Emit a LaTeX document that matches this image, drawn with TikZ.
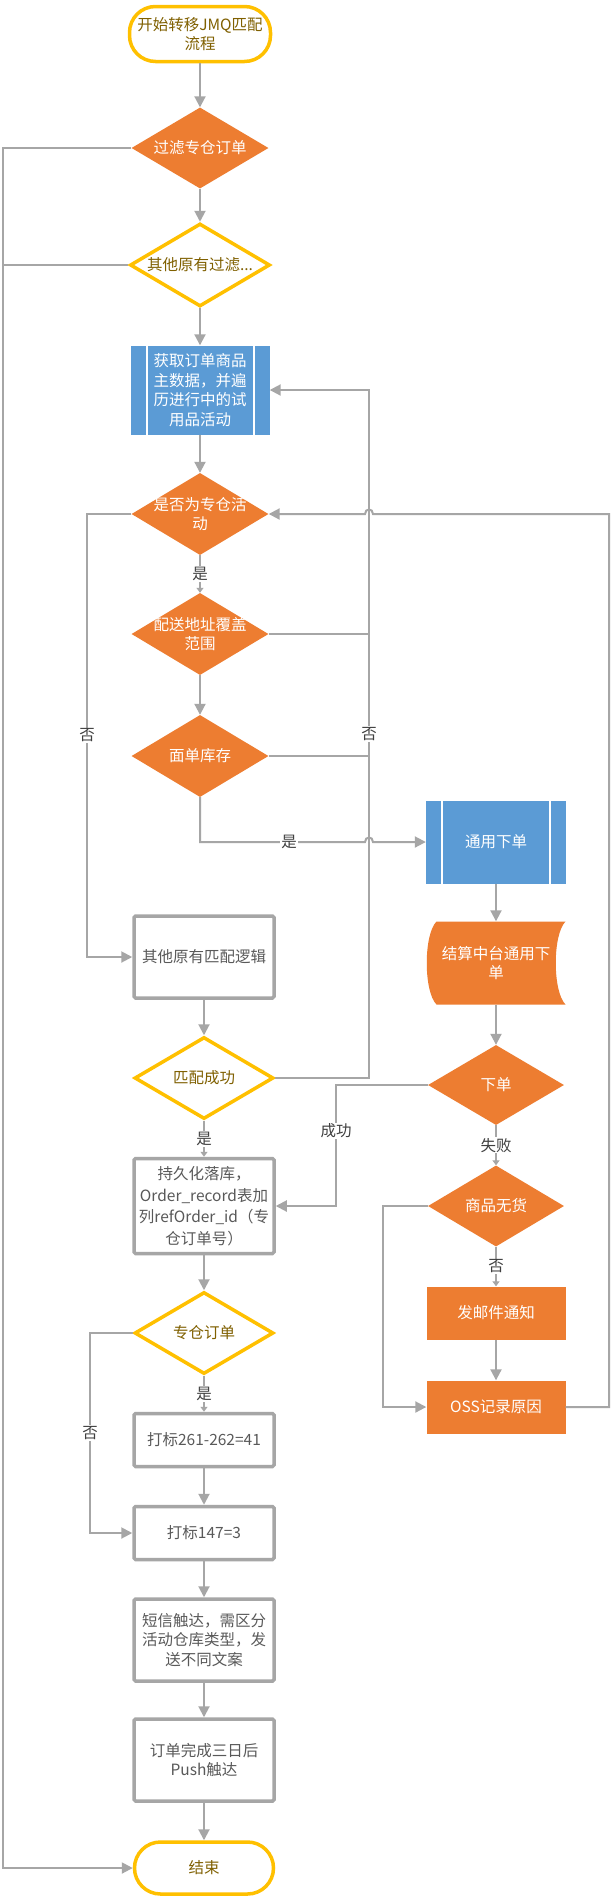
\documentclass[tikz,border=0pt]{standalone}
\usepackage{fontspec}
\setmainfont{Noto Sans CJK SC}
\usepackage{tikz}
\usetikzlibrary{shapes.geometric, arrows.meta}
\usetikzlibrary{calc}

\definecolor{jorange}{RGB}{237,125,49}
\definecolor{jblue}{RGB}{91,155,213}
\definecolor{jyellow}{RGB}{255,192,0}
\definecolor{jgray}{RGB}{166,166,166}
\definecolor{jtext}{RGB}{89,89,89}
\definecolor{jgold}{RGB}{128,96,0}
\definecolor{jlabel}{RGB}{64,64,64}

\tikzset{
  base/.style={font=\fontsize{15.5}{19.5}\selectfont, align=center, inner sep=0pt},
  terminal/.style={base, rectangle, rounded corners=26pt, draw=jyellow, line width=3.5pt, fill=white, text=jgold},
  decision/.style={base, diamond, fill=jorange},
  check/.style={base, diamond, draw=jyellow, line width=3.5pt, fill=white},
  dtext/.style={font=\fontsize{15.5}{19.5}\selectfont, align=center, text=white, inner sep=0pt},
  ctext/.style={font=\fontsize{15.5}{19.5}\selectfont, align=center, text=jgold, inner sep=0pt},
  procbox/.style={base, rectangle, draw=jgray, line width=3.5pt, rounded corners=1.5pt, fill=white, text=jtext, minimum width=140pt},
  actbox/.style={base, rectangle, fill=jorange, text=white, minimum width=139pt, minimum height=53pt},
  subproc/.style={base, rectangle, fill=jblue, text=white, path picture={
      \draw[white, line width=2pt] ([xshift=16pt]path picture bounding box.north west) -- ([xshift=16pt]path picture bounding box.south west);
      \draw[white, line width=2pt] ([xshift=-16pt]path picture bounding box.north east) -- ([xshift=-16pt]path picture bounding box.south east);}},
  stored/.style={base, rectangle, text=white, path picture={
      \fill[jorange] ([xshift=10pt]path picture bounding box.north west)
        -- (path picture bounding box.north east)
        .. controls ([xshift=-13pt,yshift=-13pt]path picture bounding box.north east)
                and ([xshift=-13pt,yshift=13pt]path picture bounding box.south east) .. (path picture bounding box.south east)
        -- ([xshift=10pt]path picture bounding box.south west)
        .. controls ([xshift=-3pt,yshift=13pt]path picture bounding box.south west)
                and ([xshift=-3pt,yshift=-13pt]path picture bounding box.north west) .. cycle;}},
  flow/.style={draw=jgray, line width=2pt, -{Triangle[length=11pt,width=11pt]}},
  shortflow/.style={draw=jgray, line width=2pt, -{Triangle[length=5pt,width=7pt]}},
  plain/.style={draw=jgray, line width=2pt},
  lbl/.style={font=\fontsize{15.5}{19.5}\selectfont, text=jlabel, fill=white, inner sep=1pt},
}

\begin{document}
\begin{tikzpicture}[x=1pt,y=-1pt]
    \useasboundingbox (0,0) rectangle (611,1903);
    \fill[white] (0,0) rectangle (611,1903);

    % rails of the connectors
    \coordinate (leftx) at (3,0);
    \coordinate (nox) at (87,0);
    \coordinate (tagx) at (90,0);
    \coordinate (okx) at (336,0);
    \coordinate (retx) at (369,0);
    \coordinate (skipx) at (383,0);
    \coordinate (loopx) at (609,0);

    % main column
    \node[terminal, minimum width=141pt, minimum height=55pt] (start) at (200,34) {开始转移JMQ匹配\\流程};
    \node[decision, minimum width=137pt, minimum height=81pt, label={[dtext]center:过滤专仓订单}] (f1) at (200,148) {};
    \node[check, minimum width=140pt, minimum height=83pt, label={[ctext]center:其他原有过滤...}] (f2) at (200,265) {};
    \node[subproc, minimum width=139pt, minimum height=89pt] (fetch) at (200,390) {获取订单商品\\主数据，并遍\\历进行中的试\\用品活动};
    \node[decision, minimum width=137pt, minimum height=82pt, label={[dtext]center:是否为专仓活\\动}] (act) at (200,514) {};
    \node[decision, minimum width=137pt, minimum height=82pt, label={[dtext]center:配送地址覆盖\\范围}] (area) at (200,634) {};
    \node[decision, minimum width=137pt, minimum height=82pt, label={[dtext]center:面单库存}] (stock) at (200,756) {};
    \node[procbox, minimum height=82pt] (other) at (204,957) {其他原有匹配逻辑};
    \node[check, minimum width=139pt, minimum height=82pt, label={[ctext]center:匹配成功}] (match) at (204,1078) {};
    \node[procbox, minimum height=95pt, font=\fontsize{15.5}{21.5}\selectfont] (persist) at (204,1206) {持久化落库，\\Order\_record表加\\列refOrder\_id（专\\仓订单号）};
    \node[check, minimum width=139pt, minimum height=82pt, label={[ctext]center:专仓订单}] (dedic) at (204,1333) {};
    \node[procbox, minimum height=53pt] (mark1) at (204,1440) {打标261-262=41};
    \node[procbox, minimum height=53pt] (mark2) at (204,1533) {打标147=3};
    \node[procbox, minimum height=82pt] (sms) at (204,1640) {短信触达，需区分\\活动仓库类型，发\\送不同文案};
    \node[procbox, minimum height=82pt] (push) at (204,1760) {订单完成三日后\\Push触达};
    \node[terminal, minimum width=139pt, minimum height=52pt] (finish) at (204,1868) {结束};

    % ordering column
    \node[subproc, minimum width=140pt, minimum height=83pt] (place) at (496,842) {通用下单};
    \node[stored, minimum width=139pt, minimum height=83pt] (settle) at (496,963) {结算中台通用下\\单};
    \node[decision, minimum width=136pt, minimum height=80pt, label={[dtext]center:下单}] (order) at (496,1085) {};
    \node[decision, minimum width=136pt, minimum height=81pt, label={[dtext]center:商品无货}] (nogoods) at (496,1206) {};
    \node[actbox] (mail) at (496,1313) {发邮件通知};
    \node[actbox] (oss) at (496,1407) {OSS记录原因};

    % straight arrows
    \foreach \a/\b in {start/f1, f1/f2, f2/fetch, fetch/act, area/stock, other/match, persist/dedic,
        mark1/mark2, mark2/sms, sms/push, push/finish, place/settle, settle/order, mail/oss}
        \draw[flow] (\a.south) -- (\b.north);

    % labelled short arrows
    \draw[shortflow] (act.south) -- node[lbl] {是} (area.north);
    \draw[shortflow] (match.south) -- node[lbl] {是} (persist.north);
    \draw[shortflow] (dedic.south) -- node[lbl] {是} (mark1.north);
    \draw[shortflow] (order.south) -- node[lbl] {失败} (nogoods.north);
    \draw[shortflow] (nogoods.south) -- node[lbl] {否} (mail.north);

    % filtered orders go straight to the end
    \draw[flow] (f1.west) -| (leftx |- finish.west) -- (finish.west);
    \draw[plain] (f2.west) -- (leftx |- f2.west);

    \draw[flow] (act.west) -| (nox |- other.west) node[lbl, pos=0.75] {否} -- (other.west);
    \draw[flow] (dedic.west) -| (tagx |- mark2.west) node[lbl, pos=0.75] {否} -- (mark2.west);

    % back to the next activity
    \draw[plain] (area.east) -- (retx |- area.east);
    \draw[plain] (stock.east) -- (retx |- stock.east);
    \draw[flow] (match.east) -| (retx |- fetch.east) node[lbl, pos=0.75] {否} -- (fetch.east);

    \draw[flow] (stock.south) |- ([xshift=-4pt]retx |- place.west) node[lbl, pos=0.77] {是}
        .. controls +(0,-6) and +(0,-6) .. ([xshift=4pt]retx |- place.west) -- (place.west);

    \draw[flow] (order.west) -| (okx |- persist.east) node[lbl, pos=0.69] {成功} -- (persist.east);
    \draw[flow] (nogoods.west) -| (skipx |- oss.west) -- (oss.west);

    \draw[flow] (oss.east) -| (loopx |- act.east) -- ([xshift=4pt]retx |- act.east)
        .. controls +(0,-6) and +(0,-6) .. ([xshift=-4pt]retx |- act.east) -- (act.east);
\end{tikzpicture}
\end{document}
